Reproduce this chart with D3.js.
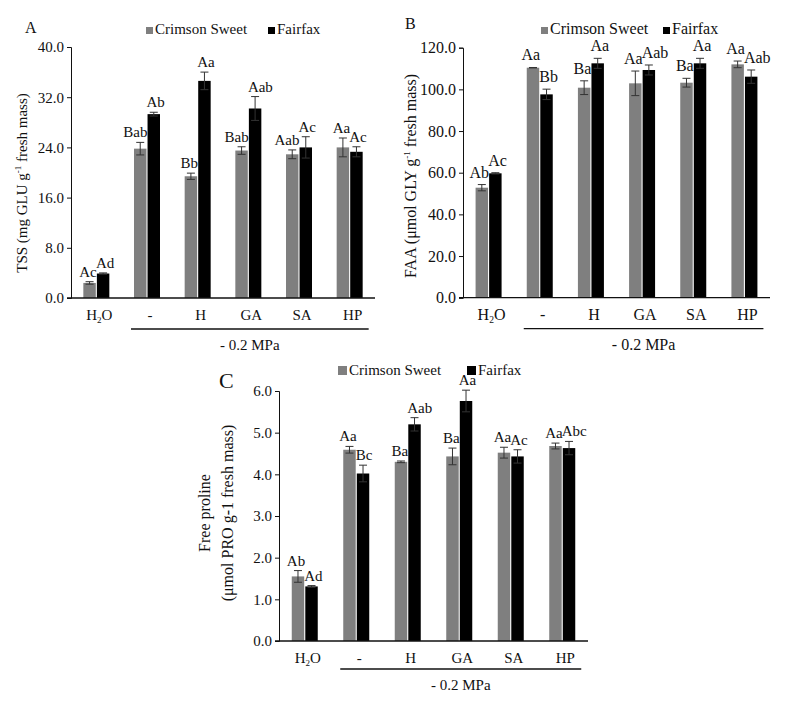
<!DOCTYPE html>
<html>
<head>
<meta charset="utf-8">
<script src="https://cdn.jsdelivr.net/npm/d3@7/dist/d3.min.js"></script>
<style>
  body { margin: 0; background: #fff; }
  svg { display: block; }
  text { font-family: "Liberation Serif", "Times New Roman", serif; fill: #111; }
</style>
</head>
<body>
<div id="chart"></div>
<script>
var width = 790;
var height = 706;

// categories and series
const categories = ["H2O", "-", "H", "GA", "SA", "HP"];
const series = ["Crimson Sweet", "Fairfax"];
const seriesColor = ["#7f7f7f", "#000000"];

// panel A - TSS
const tssCrimson = [2.4, 23.8, 19.4, 23.5, 22.9, 24.0];
const tssCrimsonErr = [0.2, 1.0, 0.5, 0.6, 0.7, 1.5];
const tssFairfax = [3.9, 29.3, 34.6, 30.2, 24.0, 23.3];
const tssFairfaxErr = [0.1, 0.3, 1.4, 1.9, 1.7, 0.8];
const tssCrimsonLetters = ["Ac", "Bab", "Bb", "Bab", "Aab", "Aa"];
const tssFairfaxLetters = ["Ad", "Ab", "Aa", "Aab", "Ac", "Ac"];
const tssTicks = [0, 8, 16, 24, 32, 40];

// panel B - FAA
const faaCrimson = [52.8, 110.4, 100.8, 102.9, 103.2, 112.0];
const faaCrimsonErr = [1.5, 0.1, 3.3, 5.9, 2.1, 1.6];
const faaFairfax = [59.7, 97.6, 112.5, 109.3, 112.5, 106.1];
const faaFairfaxErr = [0.3, 2.5, 2.4, 2.4, 2.4, 3.2];
const faaCrimsonLetters = ["Ab", "Aa", "Ba", "Aa", "Ba", "Aa"];
const faaFairfaxLetters = ["Ac", "Bb", "Aa", "Aab", "Aa", "Aab"];
const faaTicks = [0, 20, 40, 60, 80, 100, 120];

// panel C - free proline
const proCrimson = [1.55, 4.59, 4.30, 4.43, 4.52, 4.68];
const proCrimsonErr = [0.14, 0.08, 0.02, 0.2, 0.13, 0.07];
const proFairfax = [1.31, 4.02, 5.20, 5.76, 4.43, 4.63];
const proFairfaxErr = [0.02, 0.2, 0.16, 0.26, 0.16, 0.16];
const proCrimsonLetters = ["Ab", "Aa", "Ba", "Ba", "Aa", "Aa"];
const proFairfaxLetters = ["Ad", "Bc", "Aab", "Aa", "Ac", "Abc"];
const proTicks = [0, 1, 2, 3, 4, 5, 6];

const stressLabel = "- 0.2 MPa";

var svg = d3.select("#chart").append("svg")
    .attr("width", width).attr("height", height);

function drawPanel(p) {
    let g = svg.append("g");
    let x = d3.scaleBand().domain(categories).range([p.left, p.right]);
    let sub = d3.scaleBand().domain(series).range([-13, 13]).paddingInner(0.08);
    let y = d3.scaleLinear().domain([0, d3.max(p.ticks)]).range([p.bottom, p.top]);

    let rows = [];
    categories.forEach((c, i) => {
        series.forEach((s, k) => {
            rows.push({cat: c, s: s, k: k, v: p.values[k][i], e: p.errs[k][i], lab: p.letters[k][i]});
        });
    });
    let bx = d => x(d.cat) + x.bandwidth() / 2 + sub(d.s);
    let cx = d => bx(d) + sub.bandwidth() / 2;

    // bars
    g.selectAll(".bar").data(rows).join("rect")
        .attr("class", "bar")
        .attr("x", bx)
        .attr("width", sub.bandwidth())
        .attr("y", d => y(d.v))
        .attr("height", d => y(0) - y(d.v))
        .attr("fill", d => seriesColor[d.k]);

    // error bars
    let eb = g.selectAll(".err").data(rows).join("g").attr("class", "err")
        .attr("stroke", "#333").attr("stroke-width", 1);
    eb.append("line").attr("x1", cx).attr("x2", cx)
        .attr("y1", d => y(d.v - d.e)).attr("y2", d => y(d.v + d.e));
    eb.append("line").attr("x1", d => cx(d) - 4).attr("x2", d => cx(d) + 4)
        .attr("y1", d => y(d.v + d.e)).attr("y2", d => y(d.v + d.e));
    eb.append("line").attr("x1", d => cx(d) - 4).attr("x2", d => cx(d) + 4)
        .attr("y1", d => y(d.v - d.e)).attr("y2", d => y(d.v - d.e));

    // significance letters: gray ones end at the bar's right edge, black ones start at its left edge
    g.selectAll(".lab").data(rows).join("text")
        .attr("class", "lab")
        .attr("x", d => d.k == 0 ? bx(d) + sub.bandwidth() + 1 : bx(d) - 1)
        .attr("y", d => y(d.v + d.e) - p.labGap)
        .attr("text-anchor", d => d.k == 0 ? "end" : "start")
        .attr("font-size", p.fs)
        .text(d => d.lab);

    // y axis
    let ya = g.append("g").attr("transform", `translate(${p.left},0)`)
        .call(d3.axisLeft(y).tickValues(p.ticks).tickFormat(d3.format(".1f")).tickSizeOuter(0).tickSize(4).tickPadding(3));
    ya.selectAll("text").attr("font-family", null).attr("font-size", p.fs).style("fill", "#111");
    ya.selectAll("line,path").attr("stroke", "#111");

    // x axis
    g.append("line").attr("x1", p.left - 4).attr("x2", p.right)
        .attr("y1", y(0)).attr("y2", y(0)).attr("stroke", "#111").attr("stroke-width", 1.3);
    let xl = g.selectAll(".xl").data(categories).join("text")
        .attr("class", "xl")
        .attr("x", d => x(d) + x.bandwidth() / 2 + 3)
        .attr("y", y(0) + 22)
        .attr("text-anchor", "middle")
        .attr("font-size", p.fs);
    xl.each(function (d) {
        let t = d3.select(this);
        if (d === "H2O") {
            t.append("tspan").text("H");
            t.append("tspan").attr("font-size", p.fs * 0.6).attr("dy", 3).text("2");
            t.append("tspan").attr("dy", -3).text("O");
        } else {
            t.text(d);
        }
    });

    // -0.2 MPa bracket
    let bx0 = x(categories[1]) + x.bandwidth() / 2 + sub(series[0]) - 3;
    let bx1 = x(categories[5]) + x.bandwidth() / 2 + sub(series[1]) + sub.bandwidth() + 6;
    g.append("line").attr("x1", bx0).attr("x2", bx1)
        .attr("y1", y(0) + p.brY).attr("y2", y(0) + p.brY)
        .attr("stroke", "#111").attr("stroke-width", 1.3);
    g.append("text").attr("x", (bx0 + bx1) / 2).attr("y", y(0) + p.brY + 21)
        .attr("text-anchor", "middle").attr("font-size", p.fs).text(stressLabel);

    // legend
    series.forEach((s, k) => {
        let lx = p.legX[k];
        g.append("rect").attr("x", lx).attr("y", p.legY - p.legSize)
            .attr("width", p.legSize).attr("height", p.legSize).attr("fill", seriesColor[k]);
        g.append("text").attr("x", lx + p.legSize + 2).attr("y", p.legY)
            .attr("font-size", p.fs).text(s);
    });

    // panel letter
    g.append("text").attr("x", p.tagX).attr("y", p.tagY)
        .attr("font-size", p.tagFs).text(p.tag);

    // y title
    let yt = g.append("text")
        .attr("transform", `translate(${p.titleX},${p.titleY}) rotate(-90)`)
        .attr("text-anchor", "middle").attr("font-size", p.fs);
    p.title(yt);
}

function unitTitle(pre, post) {
    return function (t) {
        t.append("tspan").text(pre + " g");
        t.append("tspan").attr("font-size", 9).attr("dy", -6).text("-1");
        t.append("tspan").attr("dy", 6).text(" " + post);
    };
}

drawPanel({
    left: 71, right: 375, top: 47, bottom: 298, ticks: tssTicks,
    values: [tssCrimson, tssFairfax], errs: [tssCrimsonErr, tssFairfaxErr],
    letters: [tssCrimsonLetters, tssFairfaxLetters],
    fs: 15, labGap: 5, brY: 31,
    legX: [146, 268], legY: 34, legSize: 7,
    tag: "A", tagX: 25, tagY: 33, tagFs: 16,
    titleX: 27, titleY: 183,
    title: unitTitle("TSS (mg GLU", "fresh mass)")
});

drawPanel({
    left: 463, right: 770, top: 47.7, bottom: 297.7, ticks: faaTicks,
    values: [faaCrimson, faaFairfax], errs: [faaCrimsonErr, faaFairfaxErr],
    letters: [faaCrimsonLetters, faaFairfaxLetters],
    fs: 16, labGap: 7, brY: 31,
    legX: [541, 663], legY: 34, legSize: 7,
    tag: "B", tagX: 405, tagY: 29, tagFs: 16,
    titleX: 416, titleY: 176,
    title: unitTitle("FAA (μmol GLY", "fresh mass)")
});

drawPanel({
    left: 279, right: 588, top: 391, bottom: 641, ticks: proTicks,
    values: [proCrimson, proFairfax], errs: [proCrimsonErr, proFairfaxErr],
    letters: [proCrimsonLetters, proFairfaxLetters],
    fs: 15, labGap: 5, brY: 28,
    legX: [338, 467], legY: 375, legSize: 9,
    tag: "C", tagX: 219, tagY: 388, tagFs: 22,
    titleX: 0, titleY: 513,
    title: function (t) {
        t.attr("transform", `translate(210,513) rotate(-90)`).attr("font-size", 16).text("Free proline");
        svg.append("text").attr("transform", `translate(233,513) rotate(-90)`)
            .attr("text-anchor", "middle").attr("font-size", 16)
            .text("(μmol PRO g-1 fresh mass)");
    }
});
</script>
</body>
</html>
